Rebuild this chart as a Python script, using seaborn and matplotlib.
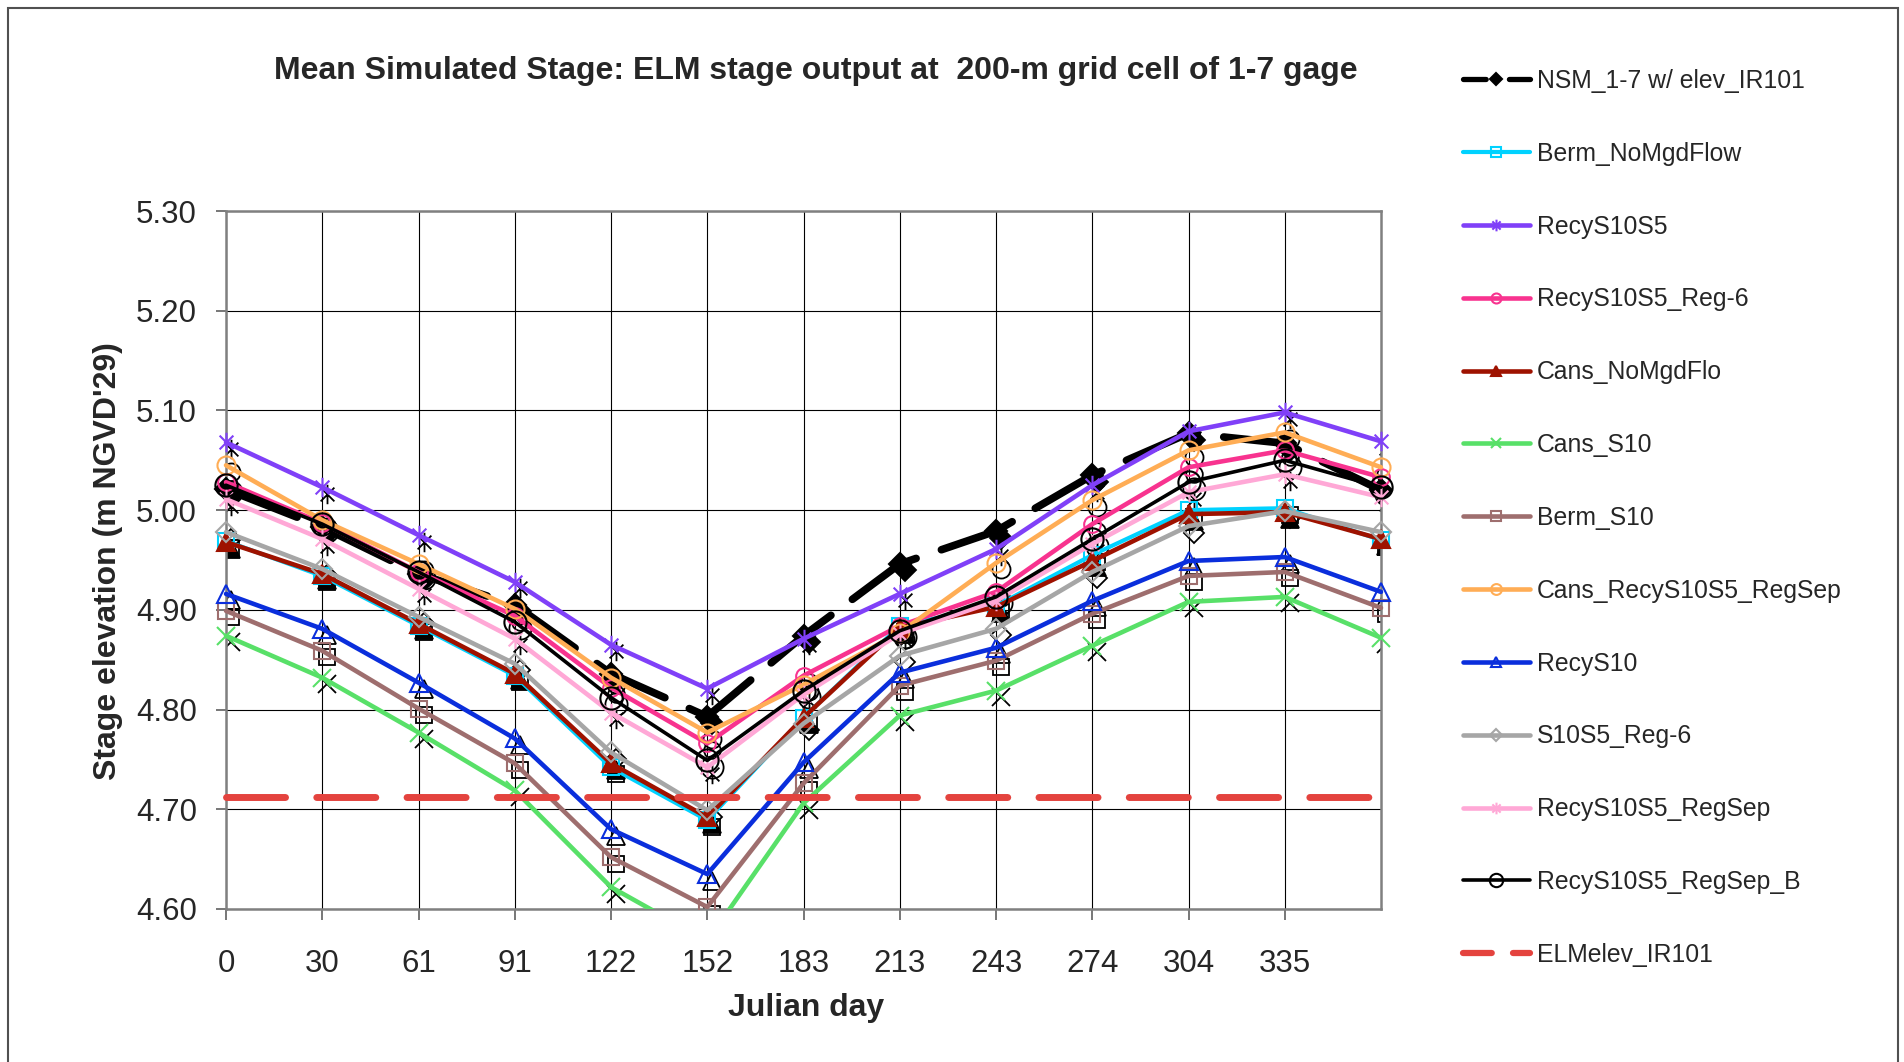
import matplotlib
matplotlib.use('Agg')
import matplotlib.pyplot as plt
import matplotlib.transforms as mtransforms
from matplotlib.path import Path
from matplotlib.patches import Rectangle
import numpy as np
import pandas as pd
import seaborn as sns

# julian day categories (last point has no tick label)
days = [0, 30, 61, 91, 122, 152, 183, 213, 243, 274, 304, 335, 365]
day_labels = ['0', '30', '61', '91', '122', '152', '183', '213', '243', '274', '304', '335', '']

nsm = [5.021, 4.983, 4.936, 4.905, 4.836, 4.793, 4.874, 4.946, 4.979, 5.035, 5.077, 5.067, 5.020]
berm_nomgdflow = [4.969, 4.934, 4.884, 4.834, 4.742, 4.689, 4.792, 4.884, 4.904, 4.955, 5.000, 5.002, 4.970]
recy_s10s5 = [5.068, 5.023, 4.975, 4.928, 4.865, 4.821, 4.871, 4.916, 4.961, 5.025, 5.079, 5.098, 5.069]
recy_s10s5_reg6 = [5.028, 4.987, 4.938, 4.894, 4.822, 4.766, 4.834, 4.884, 4.918, 4.986, 5.043, 5.060, 5.033]
cans_nomgdflo = [4.968, 4.936, 4.886, 4.836, 4.746, 4.692, 4.792, 4.882, 4.903, 4.949, 4.996, 4.998, 4.971]
cans_s10 = [4.874, 4.832, 4.777, 4.719, 4.622, 4.568, 4.706, 4.794, 4.819, 4.864, 4.908, 4.913, 4.872]
berm_s10 = [4.899, 4.859, 4.801, 4.746, 4.652, 4.602, 4.726, 4.824, 4.849, 4.896, 4.934, 4.938, 4.902]
cans_recy_regsep = [5.045, 4.990, 4.946, 4.901, 4.832, 4.777, 4.825, 4.877, 4.947, 5.010, 5.060, 5.078, 5.043]
recy_s10 = [4.916, 4.881, 4.827, 4.771, 4.680, 4.635, 4.747, 4.837, 4.862, 4.909, 4.949, 4.953, 4.918]
s10s5_reg6 = [4.978, 4.941, 4.893, 4.846, 4.757, 4.699, 4.786, 4.854, 4.881, 4.938, 4.984, 4.999, 4.978]
recy_regsep = [5.011, 4.971, 4.921, 4.871, 4.797, 4.742, 4.815, 4.876, 4.909, 4.966, 5.018, 5.036, 5.013]
recy_regsep_b = [5.025, 4.986, 4.938, 4.888, 4.812, 4.749, 4.819, 4.879, 4.913, 4.971, 5.028, 5.050, 5.023]
elm_elev = [4.712] * len(days)

# excel-like asterisk marker: vertical bar + x
ASTER = Path([(0, -1), (0, 1), (-0.707, -0.707), (0.707, 0.707), (-0.707, 0.707), (0.707, -0.707)],
             [Path.MOVETO, Path.LINETO] * 3)

# label, values, color, marker, size, filled, linewidth, dashes
series = [
    ('NSM_1-7 w/ elev_IR101', nsm, 'black', 'D', 11, True, 5.5, (0, (10, 3.5))),
    ('Berm_NoMgdFlow', berm_nomgdflow, '#00D2FF', 's', 11, False, 3.0, None),
    ('RecyS10S5', recy_s10s5, '#8040F8', ASTER, 14, False, 3.3, None),
    ('RecyS10S5_Reg-6', recy_s10s5_reg6, '#F8338F', 'o', 12, False, 3.3, None),
    ('Cans_NoMgdFlo', cans_nomgdflo, '#9E1200', '^', 13, True, 3.3, None),
    ('Cans_S10', cans_s10, '#58E068', 'x', 13, False, 3.3, None),
    ('Berm_S10', berm_s10, '#9E6E6E', 's', 12, False, 3.3, None),
    ('Cans_RecyS10S5_RegSep', cans_recy_regsep, '#FFAD55', 'o', 13, False, 3.3, None),
    ('RecyS10', recy_s10, '#0A2EDC', '^', 13, False, 3.3, None),
    ('S10S5_Reg-6', s10s5_reg6, '#A6A6A6', 'D', 10, False, 3.3, None),
    ('RecyS10S5_RegSep', recy_regsep, '#FFA8D6', ASTER, 14, False, 3.3, None),
    ('RecyS10S5_RegSep_B', recy_regsep_b, 'black', 'o', 16, False, 2.6, None),
    ('ELMelev_IR101', elm_elev, '#E4433E', None, 0, False, 5.0, (0, (8.5, 4.5))),
]

sns.set_style('white')
plt.rcParams['font.family'] = ['Liberation Sans', 'DejaVu Sans']

fig = plt.figure(figsize=(19.04, 10.62), dpi=100)
ax = fig.add_axes([226 / 1904, 1 - 909 / 1062, 1155 / 1904, 698 / 1062])

pos = np.arange(len(days))
shadow = ax.transData + mtransforms.ScaledTranslation(0.05, -0.065, fig.dpi_scale_trans)
clip = Rectangle((-0.05, 0), 1.1, 1.1, transform=ax.transAxes)

for label, vals, color, marker, ms, filled, lw, dashes in series:
    df = pd.DataFrame({'pos': pos, 'stage': vals})
    if marker is not None:
        # black drop shadow under the markers
        ax.plot(df['pos'], df['stage'], ls='none', marker=marker, ms=ms,
                mfc='black' if filled else 'none', mec='black', mew=1.3,
                transform=shadow, clip_path=clip, zorder=2)
    sns.lineplot(data=df, x='pos', y='stage', ax=ax, color=color, lw=lw, label=label,
                 marker=marker if marker is not None else '', ms=ms,
                 mfc=color if filled else 'none', mec=color, mew=1.5,
                 sort=False, errorbar=None, zorder=3)
    line = ax.lines[-1]
    line.set_clip_path(clip)
    if dashes is not None:
        line.set_linestyle(dashes)
        line.set_dash_capstyle('round')

ax.set_xlim(0, 12)
ax.set_ylim(4.60, 5.30)
ax.set_xticks(pos[:-1])
ax.set_xticklabels(day_labels[:-1], fontsize=22.5)
ax.set_yticks(np.arange(4.60, 5.301, 0.10))
ax.set_yticklabels([f'{v:.2f}' for v in np.arange(4.60, 5.301, 0.10)], fontsize=22.5)
ax.tick_params(axis='y', direction='out', length=7, width=1.2, color='#606060', pad=14, left=True)
ax.tick_params(axis='x', direction='out', length=8, width=1.2, color='#606060', pad=21, bottom=True)

ax.grid(True, color='black', lw=0.8)
ax.set_axisbelow(True)
for sp in ax.spines.values():
    sp.set_color('#808080')
    sp.set_linewidth(1.8)
    sp.set_visible(True)

ax.set_xlabel('Julian day', fontsize=23, fontweight='bold')
ax.xaxis.set_label_coords(0.502, -0.142)
ax.xaxis.label.set_va('center')
ax.set_ylabel("Stage elevation (m NGVD'29)", fontsize=23, fontweight='bold')
ax.yaxis.set_label_coords(-0.102, 0.499)
ax.yaxis.label.set_va('center')

fig.text(816 / 1904, 1 - 71 / 1062, 'Mean Simulated Stage: ELM stage output at  200-m grid cell of 1-7 gage',
         fontsize=23, fontweight='bold', ha='center', va='center')

handles, labels = ax.get_legend_handles_labels()
leg = ax.legend(handles, labels, loc='upper left', bbox_to_anchor=(1463 / 1904, 1 - 69 / 1062),
                bbox_transform=fig.transFigure, frameon=False, fontsize=17.8,
                handlelength=2.7, handletextpad=0.3, labelspacing=1.975, borderpad=0,
                borderaxespad=0, markerscale=0.6)
# dash patterns of the legend samples (excel shows one gap after the marker)
for lh, (name, *_rest) in zip(leg.get_lines(), series):
    if name.startswith('NSM'):
        lh.set_linewidth(3.8)
        lh.set_linestyle((0, (4.3, 4.4)))
        lh.set_dash_capstyle('round')
    elif name.startswith('ELMelev'):
        lh.set_linewidth(4.5)
        lh.set_linestyle((0, (4.6, 3.4)))
        lh.set_dash_capstyle('round')

# chart area border
fig.patches.append(Rectangle((8 / 1904, -0.1), 1890 / 1904, 1.1 - 8 / 1062, transform=fig.transFigure,
                             fill=False, ec='#505050', lw=1.5))

fig.savefig('out.png', dpi=100)
